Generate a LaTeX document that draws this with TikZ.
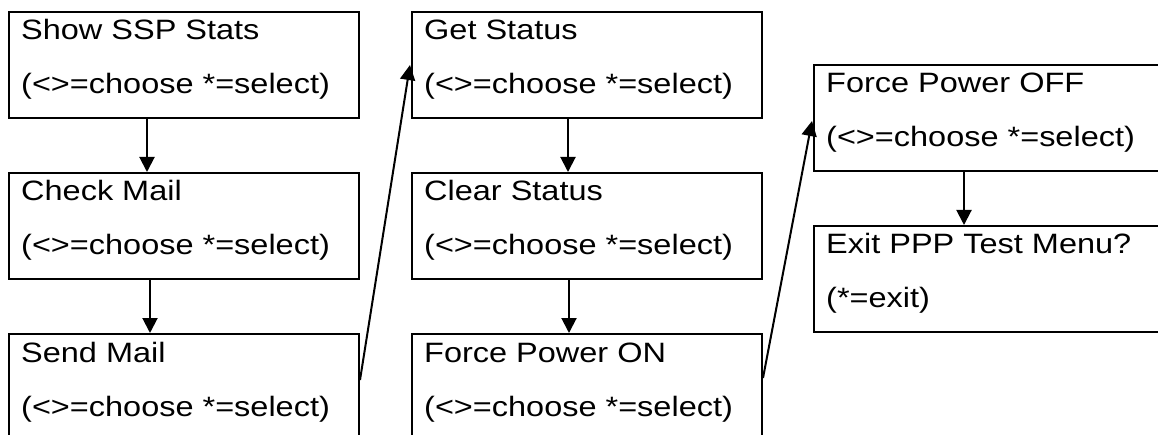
\documentclass[tikz,border=0pt]{standalone}
\usepackage{fontspec}
\setmainfont{Liberation Sans}[FakeStretch=1.16]
\usetikzlibrary{arrows.meta,calc}

\tikzset{
  menubox/.style={draw, line width=2pt, minimum width=350pt, minimum height=106pt,
                  inner sep=0pt, anchor=north west},
  menutext/.style={inner sep=0pt, anchor=base west, font=\fontsize{28}{34}\selectfont},
  flow/.style={line width=2pt, -{Triangle[length=15pt,width=15pt]}},
}

% one menu screen: name, x, y (top left), first line, second line
\newcommand\menuitem[5]{%
  \node[menubox] (#1) at (#2,#3) {};
  \node[menutext] (#1-a) at ($(#1.north west)+(13,29)$) {#4};
  \node[menutext] (#1-b) at ($(#1.north west)+(13,83)$) {#5};
}

\begin{document}
\begin{tikzpicture}[x=1pt, y=-1pt]
  \useasboundingbox (0,0) rectangle (1158,435);
  \clip (0,0) rectangle (1158,435);

  % first column
  \menuitem{m1}{8}{11}{Show SSP Stats}{(<>=choose *=select)}
  \menuitem{m2}{8}{172}{Check Mail}{(<>=choose *=select)}
  \menuitem{m3}{8}{333}{Send Mail}{(<>=choose *=select)}

  % second column
  \menuitem{m4}{411}{11}{Get Status}{(<>=choose *=select)}
  \menuitem{m5}{411}{172}{Clear Status}{(<>=choose *=select)}
  \menuitem{m6}{411}{333}{Force Power ON}{(<>=choose *=select)}

  % third column
  \menuitem{m7}{813}{64}{Force Power OFF}{(<>=choose *=select)}
  \menuitem{m8}{813}{225}{Exit PPP Test Menu?}{(*=exit)}

  % transitions within each column
  \draw[flow] ($(m1.south west)+(139,0)$) -- ($(m2.north west)+(139,0)$);
  \draw[flow] ($(m2.south west)+(142,0)$) -- ($(m3.north west)+(142,0)$);
  \draw[flow] ($(m4.south west)+(157,0)$) -- ($(m5.north west)+(157,0)$);
  \draw[flow] ($(m5.south west)+(158,0)$) -- ($(m6.north west)+(158,0)$);
  \draw[flow] ($(m7.south west)+(151,0)$) -- ($(m8.north west)+(151,0)$);

  % jumps to the next column
  \draw[flow] ($(m3.north east)+(0,47)$) -- ($(m4.north west)+(-1,54)$);
  \draw[flow] ($(m6.north east)+(0,45)$) -- ($(m7.north west)+(-1,57)$);
\end{tikzpicture}
\end{document}
